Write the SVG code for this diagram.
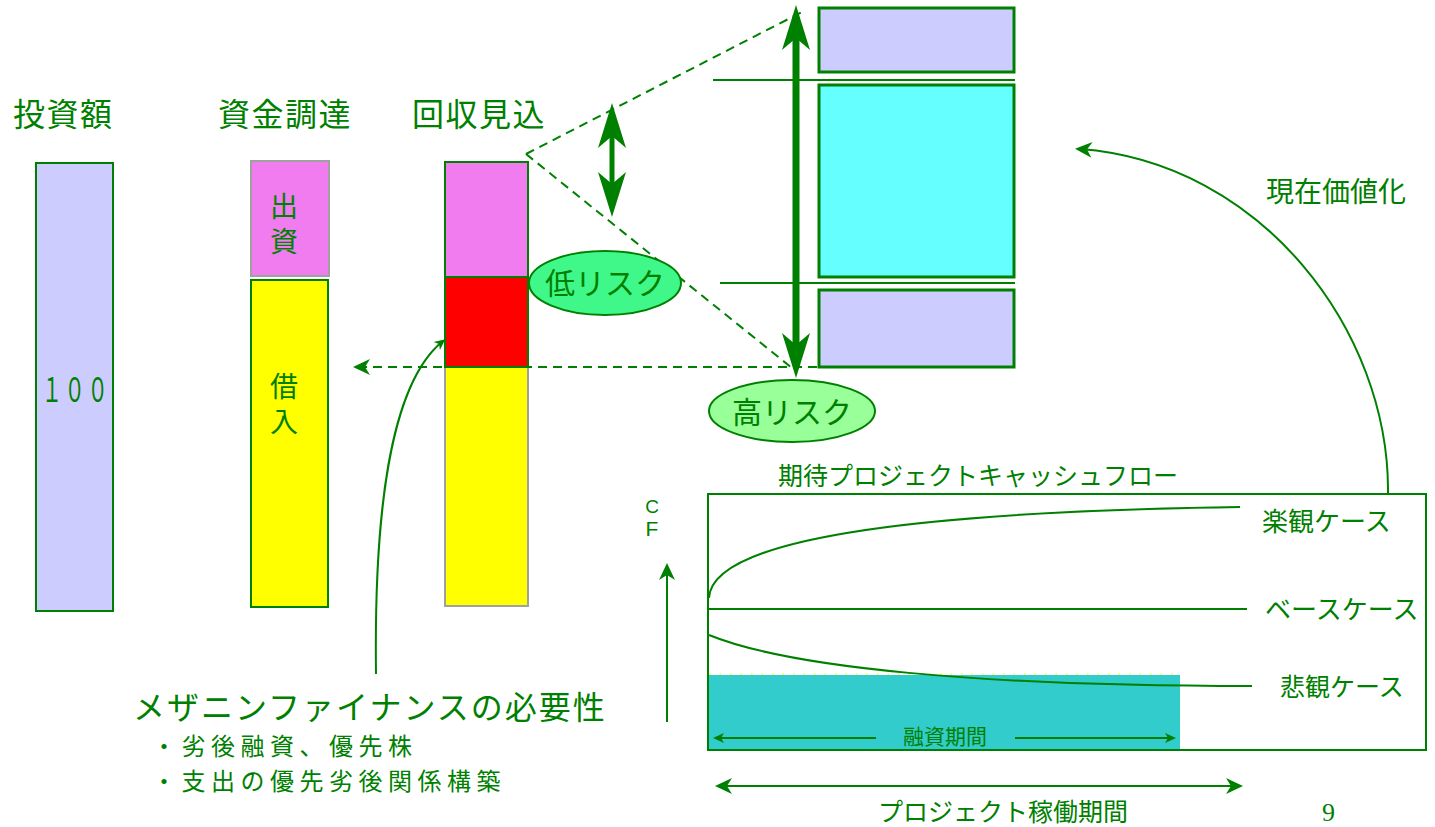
<svg xmlns="http://www.w3.org/2000/svg" width="1435" height="827" viewBox="0 0 1435 827">
<style>
.t{font-family:"Noto Sans CJK JP","Noto Sans",sans-serif;fill:#008000}
.v{writing-mode:vertical-rl}
.g{stroke:#008000;fill:none}
.gs{stroke:#008000;stroke-width:2}
.gray{stroke:#A0A0A0;stroke-width:2}
.dash{stroke:#008000;stroke-width:2;fill:none;stroke-dasharray:9,6}
</style>
<defs>
<marker id="big" markerUnits="userSpaceOnUse" markerWidth="50" markerHeight="30" refX="33" refY="14" orient="auto-start-reverse" overflow="visible">
<path d="M0,0 L45,14 L0,28 L12,14 Z" fill="#008000"/>
</marker>
<marker id="thin" markerUnits="userSpaceOnUse" markerWidth="20" markerHeight="18" refX="12" refY="8" orient="auto-start-reverse" overflow="visible">
<path d="M0,0 L17,8 L0,16 L5,8 Z" fill="#008000"/>
</marker>
<marker id="small" markerUnits="userSpaceOnUse" markerWidth="14" markerHeight="12" refX="8" refY="5" orient="auto-start-reverse" overflow="visible">
<path d="M0,0 L11,5 L0,10 L3,5 Z" fill="#008000"/>
</marker>
</defs>
<rect width="1435" height="827" fill="#FFFFFF"/>

<g id="headers">
<text class="t" x="13" y="126" font-size="32" letter-spacing="1.5">投資額</text>
<text class="t" x="218" y="126" font-size="32" letter-spacing="1.5">資金調達</text>
<text class="t" x="412" y="126" font-size="32" letter-spacing="1.5">回収見込</text>
</g>

<g id="bar-investment">
<rect x="36" y="163" width="77" height="448" fill="#CCCCFF" class="gs"/>
<text class="t" transform="translate(76,402) scale(0.6,1)" font-size="34" text-anchor="middle" letter-spacing="4">１００</text>
</g>

<g id="bar-equity">
<rect x="251" y="161" width="78" height="115" fill="#F07CF0" class="gray"/>
<text class="t v" x="284" y="192" font-size="28" letter-spacing="7">出資</text>
</g>

<g id="bar-loan">
<rect x="251" y="280" width="77" height="327" fill="#FFFF00" class="gs"/>
<text class="t v" x="284" y="372" font-size="28" letter-spacing="7">借入</text>
</g>

<g id="bar-recovery">
<rect x="445" y="367" width="83" height="239" fill="#FFFF00" class="gray"/>
<rect x="445" y="162" width="83" height="115" fill="#F07CF0" class="gs"/>
<rect x="445" y="277" width="83" height="90" fill="#FF0000" class="gs"/>
</g>

<g id="right-blocks">
<rect id="rect-top" x="819" y="8" width="195" height="64" fill="#CCCCFF" stroke="#008000" stroke-width="3"/>
<rect id="rect-mid" x="819" y="85" width="195" height="192" fill="#66FFFF" stroke="#008000" stroke-width="3"/>
<rect id="rect-bottom" x="819" y="290" width="195" height="77" fill="#CCCCFF" stroke="#008000" stroke-width="3"/>
<line x1="713" y1="80" x2="1015" y2="80" class="gs"/>
<line x1="720" y1="283" x2="1015" y2="283" class="gs"/>
</g>

<g id="connectors">
<line x1="526" y1="154" x2="802" y2="12" class="dash"/>
<line x1="526" y1="154" x2="792" y2="368" class="dash"/>
<line x1="997" y1="367" x2="358" y2="367" class="dash" marker-end="url(#thin)"/>
<line x1="612" y1="115" x2="612" y2="205" stroke="#008000" stroke-width="5" marker-start="url(#big)" marker-end="url(#big)"/>
<line x1="796" y1="17" x2="796" y2="366" stroke="#008000" stroke-width="7" marker-start="url(#big)" marker-end="url(#big)"/>
<path d="M1388,494 C1390,330 1260,162 1080,149" class="g" stroke-width="2" marker-end="url(#thin)"/>
<path d="M376,674 C374,520 388,385 443,341" class="g" stroke-width="2" marker-end="url(#small)"/>
<line x1="667" y1="722" x2="667" y2="568" class="gs" marker-end="url(#thin)"/>
<line x1="720" y1="786" x2="1238" y2="786" class="gs" marker-start="url(#thin)" marker-end="url(#thin)"/>
</g>

<g id="ellipse-low">
<ellipse cx="605" cy="283" rx="76" ry="32" fill="#40F88A" class="gs"/>
<text class="t" x="605" y="294" font-size="30" text-anchor="middle">低リスク</text>
</g>

<g id="ellipse-high">
<ellipse cx="792" cy="411" rx="83" ry="31" fill="#99FF99" class="gs"/>
<text class="t" x="792" y="423" font-size="30" text-anchor="middle">高リスク</text>
</g>

<g id="pv-label">
<text class="t" x="1266" y="202" font-size="28">現在価値化</text>
</g>

<g id="cf-chart">
<text class="t" x="778" y="485" font-size="25">期待プロジェクトキャッシュフロー</text>
<text x="652" y="513" font-size="19" text-anchor="middle" font-family="Liberation Sans, sans-serif" fill="#008000">C</text>
<text x="652" y="536" font-size="21" text-anchor="middle" font-family="Liberation Sans, sans-serif" fill="#008000">F</text>
<rect x="709" y="675" width="471" height="75" fill="#33CCCC"/>
<line x1="709" y1="674" x2="1180" y2="674" stroke="#FFFF00" stroke-width="1.5" stroke-dasharray="1.5,9"/>
<rect x="708" y="494" width="718" height="256" class="gs" fill="none"/>
<path d="M709,598 C712,540 900,512 1240,507" class="g" stroke-width="2"/>
<line x1="709" y1="609" x2="1247" y2="609" class="gs"/>
<path d="M709,635 C790,668 980,686 1252,686" class="g" stroke-width="2"/>
<text class="t" x="1262" y="531" font-size="26">楽観ケース</text>
<text class="t" x="1265" y="619" font-size="26">ベースケース</text>
<text class="t" x="1280" y="696" font-size="25">悲観ケース</text>
<line x1="876" y1="738" x2="716" y2="738" class="gs" marker-end="url(#small)"/>
<line x1="1015" y1="738" x2="1173" y2="738" class="gs" marker-end="url(#small)"/>
<text class="t" x="945" y="744" font-size="21" text-anchor="middle">融資期間</text>
<text class="t" x="1003" y="821" font-size="25" text-anchor="middle">プロジェクト稼働期間</text>
</g>

<g id="mezzanine-notes">
<text class="t" x="133" y="719" font-size="32" letter-spacing="2">メザニンファイナンスの必要性</text>
<text class="t" x="152" y="755" font-size="24" letter-spacing="5.5">・劣後融資、優先株</text>
<text class="t" x="152" y="790" font-size="24" letter-spacing="5.5">・支出の優先劣後関係構築</text>
</g>

<text x="1322" y="821" font-size="26" font-family="Liberation Serif, serif" fill="#008000">9</text>
</svg>
